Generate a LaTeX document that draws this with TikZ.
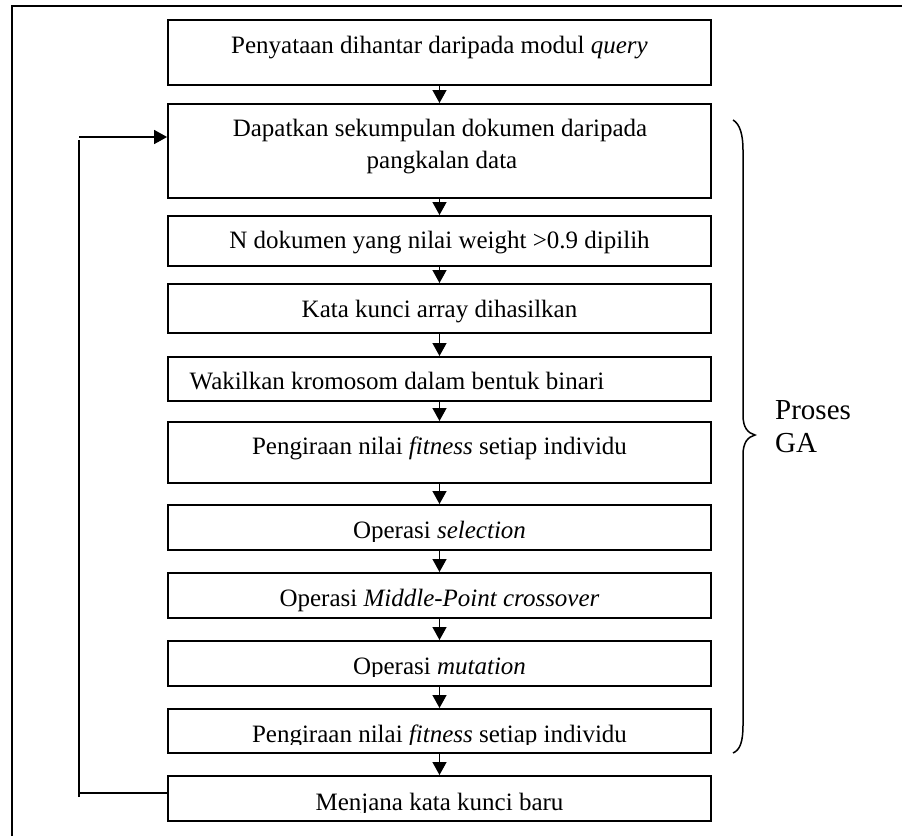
\documentclass[tikz,border=0pt]{standalone}
\usepackage{fontspec}
\setmainfont{Liberation Serif}
\usetikzlibrary{arrows.meta,calc}
\begin{document}
\begin{tikzpicture}[x=1pt,y=-1pt,
  stepbox/.style={draw,line width=1.8pt,minimum width=543pt,inner sep=0pt,anchor=north},
  lbl/.style={font=\fontsize{25}{30}\selectfont,anchor=base,inner sep=0pt},
  flow/.style={line width=1.4pt,-{Triangle[width=14pt,length=13pt]}},
  wire/.style={line width=1.4pt}]
\useasboundingbox (0,0) rectangle (902,836);

% open frame (top and left sides)
\draw[line width=2pt] (12,836) -- (12,6) -- (902,6);

% process steps
\node[stepbox,minimum height=65pt] (b1)  at (439.5,19)  {};
\node[stepbox,minimum height=94pt] (b2)  at (439.5,103) {};
\node[stepbox,minimum height=50pt] (b3)  at (439.5,215) {};
\node[stepbox,minimum height=49pt] (b4)  at (439.5,283) {};
\node[stepbox,minimum height=44pt] (b5)  at (439.5,356) {};
\node[stepbox,minimum height=61pt] (b6)  at (439.5,421) {};
\node[stepbox,minimum height=45pt] (b7)  at (439.5,504) {};
\node[stepbox,minimum height=45pt] (b8)  at (439.5,572) {};
\node[stepbox,minimum height=45pt] (b9)  at (439.5,640) {};
\node[stepbox,minimum height=44pt] (b10) at (439.5,708) {};
\node[stepbox,minimum height=45pt] (b11) at (439.5,775) {};

% step texts
\node[lbl] (t1)  at (439.5,53)  {Penyataan dihantar daripada modul \textit{query}};
\node[lbl] (t2a) at (440,136)   {Dapatkan sekumpulan dokumen daripada};
\node[lbl] (t2b) at (442,168)   {pangkalan data};
\node[lbl] (t3)  at (439.5,248) {N dokumen yang nilai weight >0.9 dipilih};
\node[lbl] (t4)  at (439.5,317) {Kata kunci array dihasilkan};
\node[lbl] (t5)  at (397,389)   {Wakilkan kromosom dalam bentuk binari};
\node[lbl] (t6)  at (439.5,454) {Pengiraan nilai \textit{fitness} setiap individu};
\node[lbl] (t8)  at (439.5,606) {Operasi \textit{Middle-Point crossover}};
% these lines sit low in their boxes, so descenders are trimmed
\begin{scope}
  \clip (160,500) rectangle (720,541);
  \node[lbl] (t7) at (439.5,538) {Operasi \textit{selection}};
\end{scope}
\begin{scope}
  \clip (160,636) rectangle (720,676.5);
  \node[lbl] (t9) at (439.5,674) {Operasi \textit{mutation}};
\end{scope}
\begin{scope}
  \clip (160,704) rectangle (720,744.5);
  \node[lbl] (t10) at (439.5,742) {Pengiraan nilai \textit{fitness} setiap individu};
\end{scope}
\begin{scope}
  \clip (160,771) rectangle (720,812.5);
  \node[lbl] (t11) at (439.5,810) {Menjana kata kunci baru};
\end{scope}

% flow arrows
\draw[flow] (b1) -- (b2);
\draw[flow] (b2) -- (b3);
\draw[flow] (b3) -- (b4);
\draw[flow] (b4) -- (b5);
\draw[flow] (b5) -- (b6);
\draw[flow] (b6) -- (b7);
\draw[flow] (b7) -- (b8);
\draw[flow] (b8) -- (b9);
\draw[flow] (b9) -- (b10);
\draw[flow] (b10) -- (b11);

% feedback loop
\coordinate (fbot) at (79,793);
\coordinate (ftop) at (79,137);
\draw[wire] (b11.west |- fbot) -- (fbot);
\draw[wire] (79,797) -- (79,140);
\draw[flow] (ftop) -- (b2.west |- ftop);

% brace around the GA steps
\draw[line width=1.5pt]
  (733,120) .. controls (740,124) and (743,135) .. (743,150)
  -- (743,415) .. controls (743,428) and (748,433) .. (755,435)
  .. controls (748,437) and (743,442) .. (743,455)
  -- (743,725) .. controls (743,742) and (740,750) .. (733,753);
\node[font=\fontsize{29}{33}\selectfont,align=left,anchor=base west,inner sep=0pt] (ga) at (775,452) {Proses\\GA};
\end{tikzpicture}
\end{document}
